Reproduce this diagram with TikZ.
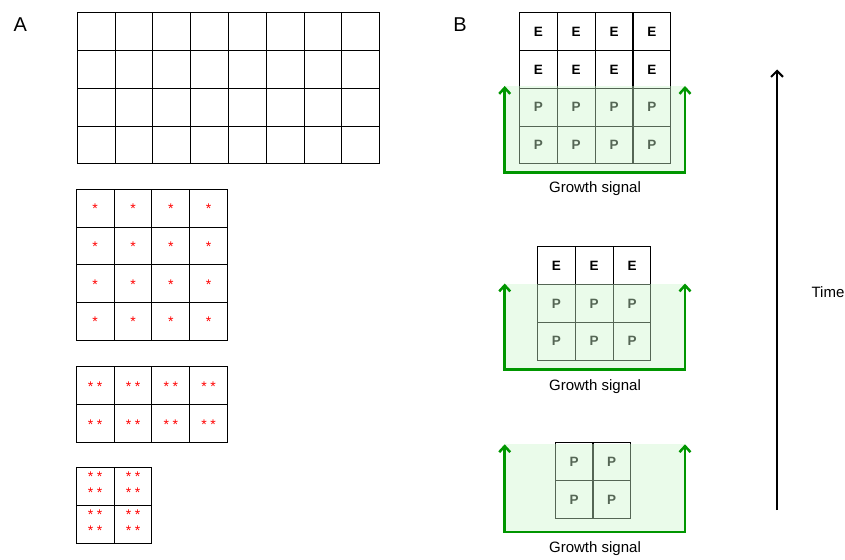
\documentclass[tikz,border=0pt]{standalone}
\usepackage{fontspec}
\setmainfont{Liberation Sans}
\usetikzlibrary{arrows.meta}

\definecolor{sigline}{RGB}{0,150,0}
\definecolor{sigfill}{RGB}{204,245,204}

\tikzset{
  cell/.style={draw=black, line width=1pt, minimum size=37.8pt, inner sep=0pt,
    font=\fontsize{13.5}{15}\selectfont\bfseries},
  redast/.style={text=red, inner sep=0pt, font=\fontsize{14}{14}\selectfont},
  signal/.style={fill=sigfill, fill opacity=0.42, draw=none},
  sigarrow/.style={draw=sigline, line width=2.5pt, line join=miter,
    {Straight Barb[length=6pt,width=11pt]}-{Straight Barb[length=6pt,width=11pt]}},
  caption/.style={font=\fontsize{15}{18}\selectfont, inner sep=0pt},
  panel/.style={font=\fontsize{20}{24}\selectfont, inner sep=0pt},
  timearrow/.style={line width=2pt, -{Straight Barb[length=6pt,width=12pt]}}
}

\begin{document}
\begin{tikzpicture}[x=1pt,y=-1pt]
\useasboundingbox (0,0) rectangle (845,559);

% ---------- panel A ----------
\node[panel] (labA) at (20.3,25) {A};

% plain 8 x 4 sheet
\foreach \r in {0,...,3}
  \foreach \c in {0,...,7}
    \node[cell] (a1-\r-\c) at ({77.3+37.8*\c+18.9},{12.7+37.8*\r+18.9}) {};

% 4 x 4 sheet, one mark per cell
\foreach \r in {0,...,3}
  \foreach \c in {0,...,3} {
    \node[cell] (a2-\r-\c) at ({76.3+37.8*\c+18.9},{189.3+37.8*\r+18.9}) {};
    \node[redast] (s2-\r-\c) at ([yshift=-0.5pt]a2-\r-\c.center) {*};
  }

% 4 x 2 sheet, two marks per cell
\foreach \r in {0,1}
  \foreach \c in {0,...,3} {
    \node[cell] (a3-\r-\c) at ({76.3+37.8*\c+18.9},{366.7+37.8*\r+18.9}) {};
    \node[redast] (s3-\r-\c-l) at ([xshift=-4.5pt,yshift=-1.5pt]a3-\r-\c.center) {*};
    \node[redast] (s3-\r-\c-r) at ([xshift=4.5pt,yshift=-1.5pt]a3-\r-\c.center) {*};
  }

% 2 x 2 sheet, four marks per cell
\foreach \r in {0,1}
  \foreach \c in {0,1} {
    \node[cell] (a4-\r-\c) at ({76.3+37.8*\c+18.9},{467.3+38.5*\r+18.9}) {};
    \node[redast] (s4-\r-\c-a) at ([xshift=-4.5pt,yshift=10pt]a4-\r-\c.center) {*};
    \node[redast] (s4-\r-\c-b) at ([xshift=4.5pt,yshift=10pt]a4-\r-\c.center) {*};
    \node[redast] (s4-\r-\c-c) at ([xshift=-4.5pt,yshift=-6pt]a4-\r-\c.center) {*};
    \node[redast] (s4-\r-\c-d) at ([xshift=4.5pt,yshift=-6pt]a4-\r-\c.center) {*};
  }

% ---------- panel B ----------
\node[panel] (labB) at (460,24.5) {B};

% late stage: 4 columns, two rows E over two rows P
\foreach \r/\t in {0/E,1/E,2/P,3/P}
  \foreach \c in {0,...,3}
    \node[cell] (b1-\r-\c) at ({519.3+37.9*\c+18.95},{12.7+37.8*\r+18.9}) {\t};
\fill[signal] (504.7,86) rectangle (685,172.7);
\coordinate (g1tl) at (504.7,86);
\coordinate (g1bl) at (504.7,172.7);
\coordinate (g1br) at (685,172.7);
\coordinate (g1tr) at (685,86);
\draw[sigarrow] (g1tl) -- (g1bl) -- (g1br) -- (g1tr);
\node[caption] (cap1) at (595,188.5) {Growth signal};

% middle stage: 3 columns, one row E over two rows P
\foreach \r/\t in {0/E,1/P,2/P}
  \foreach \c in {0,...,2}
    \node[cell] (b2-\r-\c) at ({537.3+37.9*\c+18.95},{246.7+37.8*\r+18.9}) {\t};
\fill[signal] (504.7,283.5) rectangle (685,369.5);
\coordinate (g2tl) at (504.7,283.5);
\coordinate (g2bl) at (504.7,369.5);
\coordinate (g2br) at (685,369.5);
\coordinate (g2tr) at (685,283.5);
\draw[sigarrow] (g2tl) -- (g2bl) -- (g2br) -- (g2tr);
\node[caption] (cap2) at (595,386.5) {Growth signal};

% early stage: 2 x 2 block of P
\foreach \r in {0,1}
  \foreach \c in {0,1}
    \node[cell] (b3-\r-\c) at ({555.3+37.6*\c+18.8},{442.7+37.8*\r+18.9}) {P};
\fill[signal] (504.7,444.3) rectangle (685,532);
\coordinate (g3tl) at (504.7,444.3);
\coordinate (g3bl) at (504.7,532);
\coordinate (g3br) at (685,532);
\coordinate (g3tr) at (685,444.3);
\draw[sigarrow] (g3tl) -- (g3bl) -- (g3br) -- (g3tr);
\node[caption] (cap3) at (595,549) {Growth signal};

% time axis
\coordinate (t0) at (777,510);
\coordinate (t1) at (777,69.5);
\draw[timearrow] (t0) -- (t1);
\node[caption] (timelab) at (828,292) {Time};
\end{tikzpicture}
\end{document}
